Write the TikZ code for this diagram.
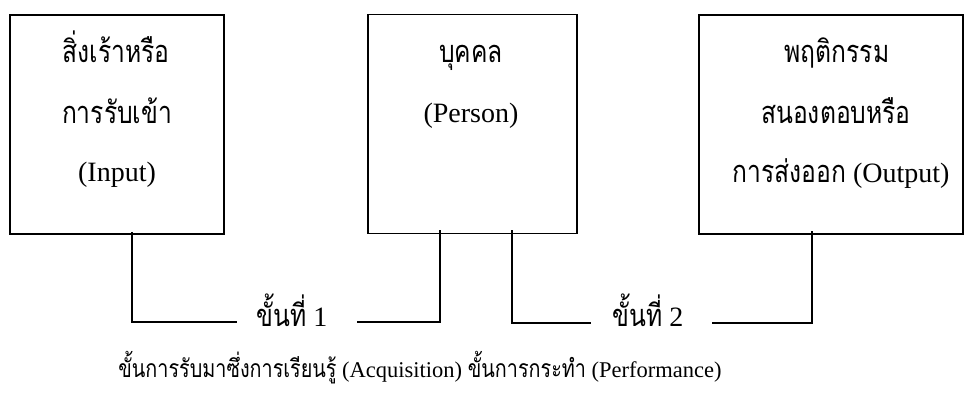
\documentclass[tikz,border=0pt]{standalone}
\usepackage{fontspec}
\setmainfont{Liberation Serif}
\newfontfamily\thai[Script=Thai,Scale=1.1,FakeStretch=0.8]{Loma}
\begin{document}
\begin{tikzpicture}[x=1pt,y=1pt,
  box/.style={draw,line width=1.6pt,minimum width=#1,minimum height=219pt,inner sep=0pt},
  txt/.style={anchor=base,inner sep=0pt,font=\fontsize{28}{33}\selectfont},
  captxt/.style={anchor=base,inner sep=0pt,font=\fontsize{22.5}{27}\selectfont},
  conn/.style={line width=1.6pt}]
\useasboundingbox (0,0) rectangle (965,408);
% boxes
\node[box=214pt] (b1) at (117,283.5) {};
\node[box=209pt] (b2) at (472.5,284) {};
\node[box=264pt] (b3) at (831,283.5) {};
% box texts
\node[txt] (t11) at (116,345) {\thai สิ่งเร้าหรือ};
\node[txt] (t12) at (117,285) {\thai การรับเข้า};
\node[txt] (t13) at (117,227) {(Input)};
\node[txt] (t21) at (471,345) {\thai บุคคล};
\node[txt] (t22) at (471,286) {(Person)};
\node[txt] (t31) at (837,345) {\thai พฤติกรรม};
\node[txt] (t32) at (836,285) {\thai สนองตอบหรือ};
\node[txt] (t33) at (841,226) {{\thai การส่งออก} (Output)};
% step labels
\node[txt] (s1) at (292,82) {{\thai ขั้นที่} 1};
\node[txt] (s2) at (648,82) {{\thai ขั้นที่} 2};
% bottom caption
\node[captxt] (cap) at (420,31) {{\thai ขั้นการรับมาซึ่งการเรียนรู้} (Acquisition) {\thai ขั้นการกระทำ} (Performance)};
% connector points
\coordinate (k1) at (132,86);
\coordinate (e1) at (237,86);
\coordinate (e2) at (357,86);
\coordinate (k2) at (440,86);
\coordinate (k3) at (512,85);
\coordinate (e3) at (591,85);
\coordinate (e4) at (712,85);
\coordinate (k4) at (812,85);
% connectors
\draw[conn] ([yshift=3pt]b1.south -| k1) -- (k1) -- (e1);
\draw[conn] (e2) -- (k2) -- ([yshift=4pt]b2.south -| k2);
\draw[conn] ([yshift=4pt]b2.south -| k3) -- (k3) -- (e3);
\draw[conn] (e4) -- (k4) -- ([yshift=4pt]b3.south -| k4);
\end{tikzpicture}
\end{document}
